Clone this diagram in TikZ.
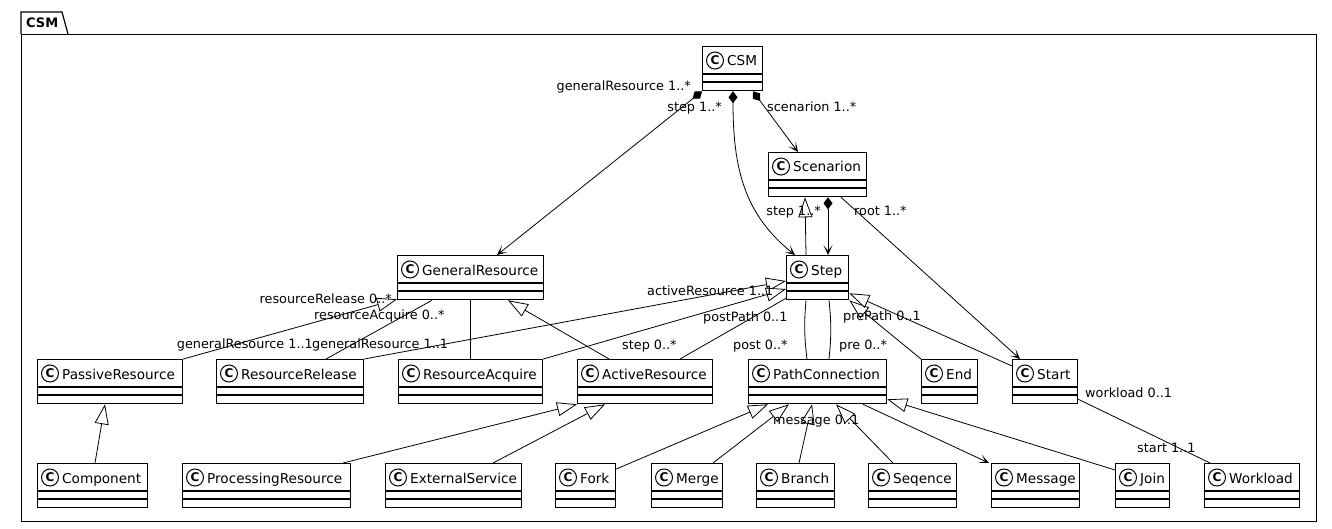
\documentclass[tikz,border=0pt]{standalone}
\usepackage{fontspec}
\setmainfont{DejaVu Sans}
\usetikzlibrary{arrows.meta,calc}

\tikzset{
  pkgframe/.style={draw, line width=1.2pt, inner sep=0pt},
  pkgline/.style={line width=1.2pt},
  pkgtitle/.style={inner sep=0pt, font=\fontsize{13}{13}\selectfont\bfseries},
  umlbox/.style={draw, line width=1.3pt, fill=white, inner sep=0pt, minimum height=44pt},
  sepline/.style={line width=1.3pt},
  cmark/.style={circle, draw, line width=1pt, minimum size=17pt, inner sep=0pt,
    font=\fontsize{12}{12}\selectfont\bfseries},
  ctitle/.style={inner sep=0pt, font=\fontsize{13.6}{14}\selectfont},
  rolelabel/.style={inner sep=0pt, font=\fontsize{12.8}{13}\selectfont},
  link/.style={line width=0.8pt},
  assoc/.style={link, -{Stealth[length=10pt,width=9pt,inset=6pt]}},
  compo/.style={link, {Diamond[length=12pt,width=9pt]}-{Stealth[length=10pt,width=9pt,inset=6pt]}},
  inherit/.style={link, -{Triangle[open,length=20pt,width=14pt,fill=white]}},
}

% class box: name, left, top, right, title
\newcommand\umlclass[5]{%
  \pgfmathsetmacro\clswidth{#4-#2}%
  \node[umlbox, minimum width=\clswidth pt, anchor=north west] (#1) at (#2,#3) {};
  \draw[sepline] ([yshift=-28pt]#1.north west) -- ([yshift=-28pt]#1.north east);
  \draw[sepline] ([yshift=-36pt]#1.north west) -- ([yshift=-36pt]#1.north east);
  \node[cmark] (#1-mark) at ([xshift=13pt,yshift=-14.5pt]#1.north west) {C};
  \node[ctitle, anchor=base west] (#1-name) at ([xshift=25pt,yshift=-20pt]#1.north west) {#5};
}

\begin{document}
\begin{tikzpicture}[x=1pt,y=-1pt]
\useasboundingbox (0,0) rectangle (1332,529);

% package frame with its tab
\node[pkgframe, minimum width=1295pt, minimum height=487pt, anchor=north west] (pkg) at (21,34) {};
\draw[pkgline] (pkg.north west) -- ([yshift=22pt]pkg.north west)
  -- ([xshift=41pt,yshift=22pt]pkg.north west) -- ([xshift=47pt]pkg.north west);
\node[pkgtitle, anchor=base west] (pkgname) at ([xshift=5pt,yshift=6.7pt]pkg.north west) {CSM};

% classes
\umlclass{csm}{702}{46}{762}{CSM}
\umlclass{scen}{768}{152}{866}{Scenarion}
\umlclass{genres}{397}{255}{543}{GeneralResource}
\umlclass{step}{786}{255}{848}{Step}
\umlclass{passive}{37}{359}{182}{PassiveResource}
\umlclass{resrel}{216}{359}{363}{ResourceRelease}
\umlclass{resacq}{398}{359}{542}{ResourceAcquire}
\umlclass{active}{577}{359}{712}{ActiveResource}
\umlclass{pathc}{748}{359}{886}{PathConnection}
\umlclass{endn}{921}{359}{977}{End}
\umlclass{startn}{1012}{359}{1077}{Start}
\umlclass{comp}{37}{463}{147}{Component}
\umlclass{procres}{182}{463}{350}{ProcessingResource}
\umlclass{extsvc}{385}{463}{521}{ExternalService}
\umlclass{fork}{555}{463}{615}{Fork}
\umlclass{merge}{651}{463}{722}{Merge}
\umlclass{branch}{756}{463}{834}{Branch}
\umlclass{seq}{868}{463}{956}{Seqence}
\umlclass{msg}{991}{463}{1079}{Message}
\umlclass{join}{1115}{463}{1169}{Join}
\umlclass{workload}{1204}{463}{1299}{Workload}

% compositions owned by CSM and Scenarion
\draw[compo] (csm.south west) -- ([xshift=100pt]genres.north west);
\draw[compo] ([xshift=31pt]csm.south west) .. controls (733,170) and (745,215) .. ([xshift=9pt]step.north west);
\draw[compo] ([xshift=51pt]csm.south west) -- ([xshift=30pt]scen.north west);
\draw[compo] ([xshift=60pt]scen.south west) -- ([xshift=42pt]step.north west);
\draw[assoc] ([xshift=73pt]scen.south west) -- ([xshift=8pt]startn.north west);

% generalisations and associations around Step
\draw[inherit] ([xshift=20pt]step.north west) -- ([xshift=37pt]scen.south west);
\draw[inherit] (resrel.north east) -- ([yshift=-26pt]step.north west);
\draw[inherit] (resacq.north east) -- ([yshift=-34pt]step.north west);
\draw[link] ([xshift=103pt]active.north west) -- ([yshift=2pt]step.south west);
\draw[link] ([xshift=20pt]step.south west) to[bend right=6] ([xshift=59pt]pathc.north west);
\draw[link] ([xshift=43pt]step.south west) to[bend left=6] ([xshift=81pt]pathc.north west);
\draw[inherit] (endn.north west) -- (step.south east);
\draw[inherit] ([yshift=-7pt]startn.north west) -- ([yshift=7pt]step.south east);
\draw[link] ([yshift=5pt]startn.south east) -- ([xshift=6pt]workload.north west);

% resources
\draw[inherit] (passive.north east) -- ([yshift=1pt]genres.south west);
\draw[link] ([xshift=35pt]genres.south west) -- ([xshift=110pt]resrel.north west);
\draw[link] ([xshift=73pt]genres.south west) -- ([xshift=72pt]resacq.north west);
\draw[inherit] ([xshift=32pt]active.north west) -- ([xshift=111pt]genres.south west);
\draw[inherit] ([xshift=58pt]comp.north west) -- ([xshift=68pt]passive.south west);
\draw[inherit] ([xshift=161pt]procres.north west) -- (active.south west);
\draw[inherit] ([xshift=108pt]extsvc.north west) -- ([xshift=28pt]active.south west);

% path connection kinds
\draw[inherit] ([yshift=-6pt]fork.north east) -- ([xshift=20pt]pathc.south west);
\draw[inherit] ([xshift=62pt]merge.north west) -- ([xshift=41pt]pathc.south west);
\draw[inherit] ([xshift=43pt]branch.north west) -- ([xshift=64pt]pathc.south west);
\draw[inherit] ([xshift=25pt]seq.north west) -- ([xshift=88pt]pathc.south west);
\draw[assoc] ([xshift=115pt]pathc.south west) -- ([xshift=-2pt]msg.north west);
\draw[inherit] ([yshift=-7pt]join.north west) -- ([yshift=5pt]pathc.south east);

% role names and multiplicities
\node[rolelabel, anchor=base east] (l1) at (691,91) {generalResource 1..*};
\node[rolelabel, anchor=base east] (l2) at (722,112) {step 1..*};
\node[rolelabel, anchor=base west] (l3) at (767,112) {scenarion 1..*};
\node[rolelabel, anchor=base east] (l4) at (821,216) {step 1..*};
\node[rolelabel, anchor=base west] (l5) at (854,216) {root 1..*};
\node[rolelabel, anchor=base east] (l6) at (392,303) {resourceRelease 0..*};
\node[rolelabel, anchor=base west] (l7) at (314,319) {resourceAcquire 0..*};
\node[rolelabel, anchor=base east] (l8) at (313,348) {generalResource 1..1};
\node[rolelabel, anchor=base west] (l9) at (312,348) {generalResource 1..1};
\node[rolelabel, anchor=base west] (l10) at (647,295) {activeResource 1..1};
\node[rolelabel, anchor=base west] (l11) at (703,321) {postPath 0..1};
\node[rolelabel, anchor=base west] (l12) at (622,349) {step 0..*};
\node[rolelabel, anchor=base west] (l13) at (733,349) {post 0..*};
\node[rolelabel, anchor=base west] (l14) at (839,349) {pre 0..*};
\node[rolelabel, anchor=base west] (l15) at (843,320) {prePath 0..1};
\node[rolelabel, anchor=base west] (l16) at (1085,397) {workload 0..1};
\node[rolelabel, anchor=base west] (l17) at (1137,452) {start 1..1};
\node[rolelabel, anchor=base west] (l18) at (773,424) {message 0..1};
\end{tikzpicture}
\end{document}
